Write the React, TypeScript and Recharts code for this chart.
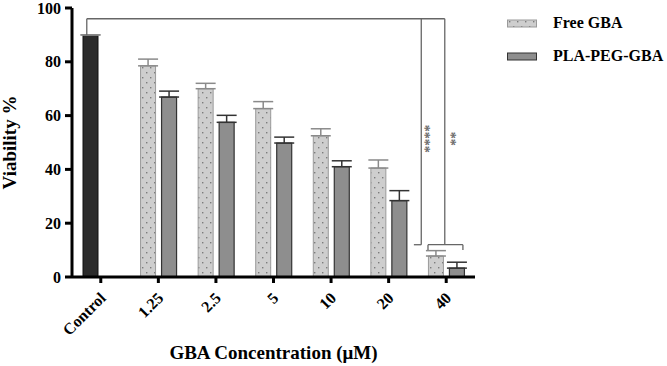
import React from "react";
import { BarChart, Bar, XAxis, YAxis, ErrorBar, Cell, ReferenceLine } from "recharts";

const categories = ["Control", "1.25", "2.5", "5", "10", "20", "40"];
const freeGba = [90, 78.5, 70, 62.6, 52.5, 40.5, 7.8];
const freeGbaErr = [0, 2.5, 2, 2.6, 2.6, 3, 2];
const plaPegGba = [null, 66.9, 57.5, 49.8, 41, 28.4, 3.3];
const plaPegGbaErr = [0, 2.2, 2.6, 2.2, 2.2, 3.7, 2.2];
const yTicks = [0, 20, 40, 60, 80, 100];
const seriesNames = ["Free GBA", "PLA-PEG-GBA"];

// significance brackets: x on hidden 0..6 axis spanning the plot width, y in viability %
const bracketLines = [
  [[0.22, 96], [5.55, 96]],
  [[0.22, 96], [0.22, 90]],
  [[5.2, 96], [5.2, 12]],
  [[5.09, 12], [5.2, 12]],
  [[5.55, 96], [5.55, 12]],
  [[5.3, 12], [5.82, 12]],
  [[5.3, 12], [5.3, 10]],
  [[5.82, 12], [5.82, 10]],
];
const starLabels = [
  { line: 2, text: "****", dx: -1 },
  { line: 4, text: "**", dx: 1 },
];

const SERIF = "'Liberation Serif', 'Times New Roman', serif";

const data = categories.map((c, i) => ({
  name: c,
  free: freeGba[i],
  freeErr: [0, freeGbaErr[i]],
  pla: plaPegGba[i],
  plaErr: [0, plaPegGbaErr[i]],
}));

function CategoryTick({ x, y, payload }: any) {
  return (
    <text
      transform={`translate(${x + 6},${y + 14}) rotate(-45)`}
      textAnchor="end"
      fontSize={16}
      fontWeight="bold"
      fontFamily={SERIF}
      fill="#000"
    >
      {payload.value}
    </text>
  );
}

function starLabel(text: string, dx: number) {
  return (props: any) => {
    const vb = props.viewBox || {};
    const cx = vb.x + dx;
    const cy = vb.y + vb.height / 2 + 7;
    return (
      <text
        transform={`translate(${cx},${cy}) rotate(90)`}
        textAnchor="middle"
        fontSize={14}
        fontWeight="bold"
        fontFamily={SERIF}
        fill="#6a6a6a"
      >
        {text}
      </text>
    );
  };
}

function LegendSwatch({ fill, stroke }: { fill: string; stroke: string }) {
  return (
    <svg width={30} height={9} style={{ display: "block" }}>
      <rect x={0.5} y={1} width={29} height={7} fill={fill} stroke={stroke} strokeWidth={1} />
    </svg>
  );
}

export default function App() {
  return (
    <div style={{ position: "relative", width: 667, height: 366, background: "#fff" }}>
      <style>{`body{margin:0}`}</style>
      <svg width={0} height={0} style={{ position: "absolute" }}>
        <defs>
          <pattern id="freeDots" width="8" height="10" patternUnits="userSpaceOnUse">
            <rect width="8" height="10" fill="#cecece" />
            <rect x="2" y="2" width="1.4" height="1.4" fill="#7c7c7c" />
            <rect x="6" y="7" width="1.4" height="1.4" fill="#7c7c7c" />
          </pattern>
        </defs>
      </svg>

      <BarChart
        width={667}
        height={366}
        data={data}
        margin={{ top: 8, right: 192, bottom: 0, left: 0 }}
        barSize={15}
        barGap={6}
      >
        <XAxis
          dataKey="name"
          height={89}
          interval={0}
          tick={<CategoryTick />}
          tickSize={6}
          tickMargin={2}
          axisLine={{ stroke: "#000", strokeWidth: 3 }}
          tickLine={{ stroke: "#000", strokeWidth: 3 }}
          label={{
            value: "GBA Concentration (μM)",
            position: "insideBottom",
            offset: 7,
            fontSize: 19,
            fontWeight: "bold",
            fontFamily: SERIF,
            fill: "#000",
          }}
        />
        <XAxis xAxisId="pos" type="number" domain={[0, 6]} allowDataOverflow hide />
        <YAxis
          width={72}
          domain={[0, 100]}
          ticks={yTicks}
          interval={0}
          tickSize={7}
          tickMargin={4}
          axisLine={{ stroke: "#000", strokeWidth: 3 }}
          tickLine={{ stroke: "#000", strokeWidth: 3 }}
          tick={{ fontSize: 16, fontWeight: "bold", fontFamily: SERIF, fill: "#000" }}
          label={{
            content: (props: any) => {
              const vb = props.viewBox || {};
              const cy = vb.y + vb.height / 2;
              return (
                <text
                  transform={`translate(16,${cy}) rotate(-90)`}
                  textAnchor="middle"
                  fontSize={19}
                  fontWeight="bold"
                  fontFamily={SERIF}
                  fill="#000"
                >
                  Viability %
                </text>
              );
            },
          }}
        />

        <Bar dataKey="free" name={seriesNames[0]} fill="url(#freeDots)" stroke="#9a9a9a" strokeWidth={1} isAnimationActive={false}>
          {data.map((d, i) => (
            <Cell key={d.name} fill={i === 0 ? "#2b2b2b" : "url(#freeDots)"} stroke={i === 0 ? "#111" : "#9a9a9a"} />
          ))}
          <ErrorBar dataKey="freeErr" width={10} stroke="#8a8a8a" strokeWidth={1.5} direction="y" isAnimationActive={false} />
        </Bar>
        <Bar dataKey="pla" name={seriesNames[1]} fill="#8e8e8e" stroke="#333" strokeWidth={1.2} isAnimationActive={false}>
          <ErrorBar dataKey="plaErr" width={10} stroke="#333" strokeWidth={1.5} direction="y" isAnimationActive={false} />
        </Bar>

        {bracketLines.map((seg, i) => {
          const star = starLabels.find((s) => s.line === i);
          return (
            <ReferenceLine
              key={i}
              xAxisId="pos"
              ifOverflow="visible"
              segment={[
                { x: seg[0][0], y: seg[0][1] },
                { x: seg[1][0], y: seg[1][1] },
              ]}
              stroke="#666"
              strokeWidth={1.3}
              label={star ? { content: starLabel(star.text, star.dx) } : undefined}
            />
          );
        })}
      </BarChart>

      <div
        style={{
          position: "absolute",
          left: 507,
          top: 12,
          fontFamily: SERIF,
          fontWeight: "bold",
          fontSize: 16,
          color: "#000",
        }}
      >
        {seriesNames.map((n, i) => (
          <div key={n} style={{ display: "flex", alignItems: "center", height: 22, marginBottom: 11 }}>
            <LegendSwatch fill={i === 0 ? "url(#freeDots)" : "#8e8e8e"} stroke={i === 0 ? "#9a9a9a" : "#333"} />
            <span style={{ marginLeft: 16 }}>{n}</span>
          </div>
        ))}
      </div>
    </div>
  );
}
